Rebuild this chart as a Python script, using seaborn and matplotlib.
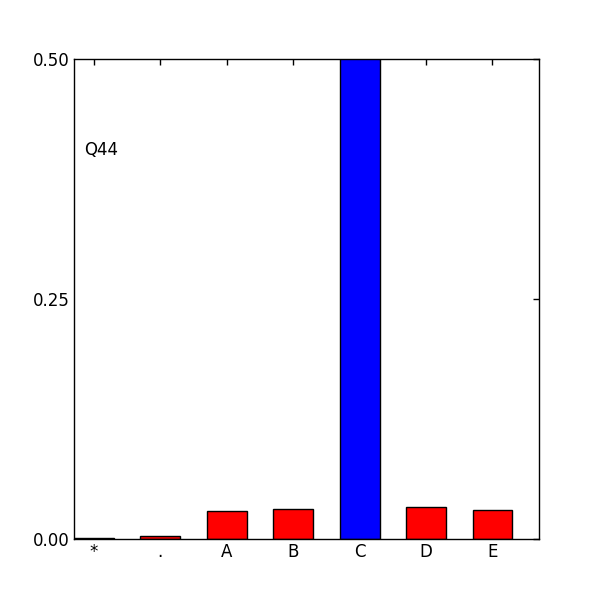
import matplotlib
matplotlib.use("Agg")
import matplotlib.pyplot as plt
import seaborn as sns

categories = ["*", ".", "A", "B", "C", "D", "E"]
values = [0.001, 0.0035, 0.0295, 0.0316, 0.6, 0.0336, 0.0305]
colors = ["red", "red", "red", "red", "blue", "red", "red"]
label_text = "Q44"
yticks = [0.0, 0.25, 0.5]

sns.set_style("white")
plt.rcParams["font.family"] = ["DejaVu Sans"]
plt.rcParams["text.color"] = "black"

fig = plt.figure(figsize=(6, 6), dpi=100)
ax = fig.add_axes([0.1233, 0.1017, 0.775, 0.8])
sns.barplot(x=categories, y=values, hue=categories, palette=colors, width=0.6,
            edgecolor="black", linewidth=1, legend=False, ax=ax, saturation=1)
ax.set_xlim(-0.3, 6.7)
ax.set_ylim(0, 0.5)
ax.set_yticks(yticks)
ax.set_yticklabels([f"{t:.2f}" for t in yticks])
ax.tick_params(direction="in", length=4, width=1, top=True, right=True,
               labelsize=12, colors="black", pad=3)
for s in ax.spines.values():
    s.set_color("black")
    s.set_linewidth(1)
ax.set_xlabel("")
ax.set_ylabel("")
ax.text(-0.15, 0.4, label_text, fontsize=12, va="baseline", ha="left", color="black")
fig.savefig("out.png", dpi=100)
